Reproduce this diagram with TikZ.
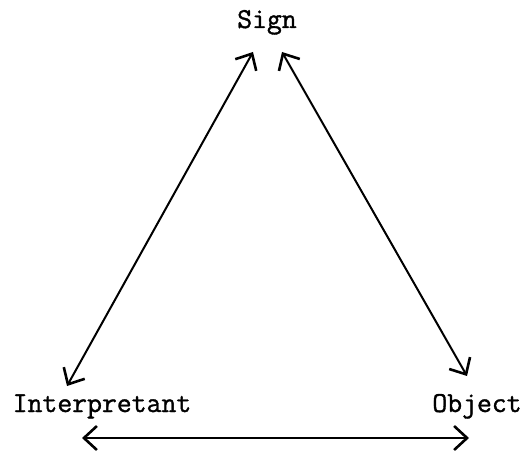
\documentclass[tikz,border=0pt]{standalone}
\usepackage{fontspec}
\newfontfamily\twfont{Latin Modern Mono}[FakeBold=1.2]
\usetikzlibrary{arrows.meta}
\tikzset{
  lbl/.style={font=\twfont\fontsize{29}{30}\selectfont, anchor=base, inner sep=0pt},
  dbl/.style={line width=2bp, {Straight Barb[length=13bp,width=24bp,line width=2.6bp]}-{Straight Barb[length=13bp,width=24bp,line width=2.6bp]}}
}
\begin{document}
\begin{tikzpicture}[x=1bp,y=-1bp]
\useasboundingbox (0,0) rectangle (528,455);
\node[lbl] (sign) at (267,28) {Sign};
\node[lbl] (interp) at (102,412) {Interpretant};
\node[lbl] (obj) at (477,412) {Object};
\coordinate (s1) at (253,52);
\coordinate (i1) at (67,386);
\coordinate (s2) at (282,52);
\coordinate (o1) at (467,376);
\coordinate (i2) at (82,438);
\coordinate (o2) at (469,438);
\draw[dbl] (i1) -- (s1);
\draw[dbl] (s2) -- (o1);
\draw[dbl] (i2) -- (o2);
\end{tikzpicture}
\end{document}
